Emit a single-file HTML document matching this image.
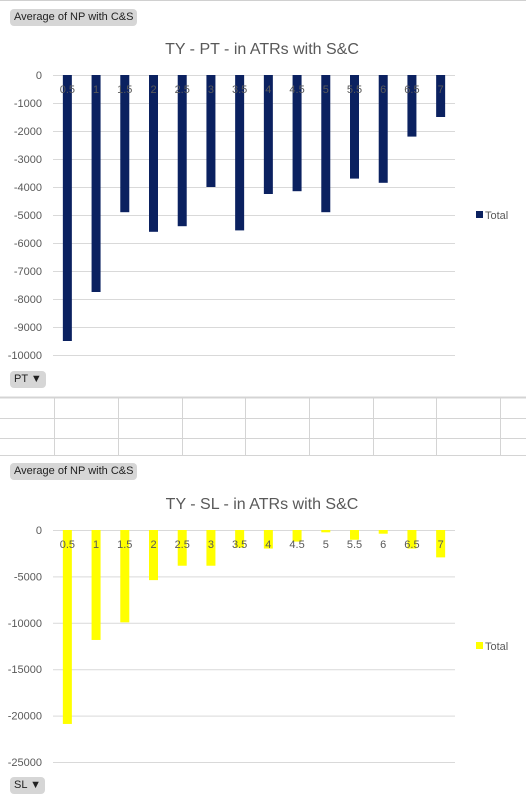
<!DOCTYPE html>
<html><head><meta charset="utf-8"><style>
body{margin:0;width:526px;height:799px;background:#fff;font-family:"Liberation Sans",sans-serif;overflow:hidden;position:relative}
.btn{position:absolute;background:#d6d6d6;border-radius:4px;font-size:11px;color:#222;padding:2px 4px;line-height:13px}
svg{position:absolute;left:0;top:0}
</style></head><body>
<div style="position:absolute;left:0;top:0;width:526px;height:1px;background:#d0d0d0"></div>
<div class="btn" style="left:10px;top:9px">Average of NP with C&amp;S</div>
<div class="btn" style="left:10px;top:371px">PT &#9660;</div>
<div class="btn" style="left:10px;top:463px">Average of NP with C&amp;S</div>
<div class="btn" style="left:10px;top:777px">SL &#9660;</div>
<svg width="526" height="799" id="s">
<g stroke="#d4d4d4">
<line x1="0" y1="397.5" x2="526" y2="397.5" stroke-width="2"/>
<line x1="0" y1="418.5" x2="526" y2="418.5"/>
<line x1="0" y1="438.5" x2="526" y2="438.5"/>
<line x1="0" y1="455.5" x2="526" y2="455.5"/>
<line x1="54.5" y1="398" x2="54.5" y2="455"/><line x1="118.5" y1="398" x2="118.5" y2="455"/>
<line x1="182.5" y1="398" x2="182.5" y2="455"/><line x1="245.5" y1="398" x2="245.5" y2="455"/>
<line x1="309.5" y1="398" x2="309.5" y2="455"/><line x1="373.5" y1="398" x2="373.5" y2="455"/>
<line x1="436.5" y1="398" x2="436.5" y2="455"/><line x1="500.5" y1="398" x2="500.5" y2="455"/>
</g>
</svg>
<script>
const categories=["0.5","1","1.5","2","2.5","3","3.5","4","4.5","5","5.5","6","6.5","7"];
const ptValues=[-9500,-7750,-4900,-5600,-5400,-4000,-5550,-4250,-4150,-4900,-3700,-3850,-2200,-1500];
const slValues=[-20900,-11850,-9950,-5400,-3850,-3850,-1900,-2000,-1250,-250,-1050,-400,-2000,-2950];
const ptTicks=[0,-1000,-2000,-3000,-4000,-5000,-6000,-7000,-8000,-9000,-10000];
const slTicks=[0,-5000,-10000,-15000,-20000,-25000];
const NS="http://www.w3.org/2000/svg",svg=document.getElementById('s');
function mk(t,a,p){const e=document.createElementNS(NS,t);for(const k in a)e.setAttribute(k,a[k]);(p||svg).appendChild(e);return e;}
function chart(o){
  const g=mk('g',{});
  
  
  const y=v=>o.y0+(v/o.min)*(o.yMin-o.y0);
  const x0=53,x1=455,step=(x1-x0)/categories.length;
  const x=i=>x0+step*(i+0.5);
  const t=mk('text',{x:262,y:o.titleY,'text-anchor':'middle','font-size':16,fill:'#595959'},g);t.textContent=o.title;
  
  
  o.ticks.forEach(v=>{
    const l=mk('line',{x1:x0,x2:x1,y1:y(v)+0.5,y2:y(v)+0.5,stroke:'#d9d9d9'},g);
    
    
    const tl=mk('text',{x:42,y:y(v)+4,'text-anchor':'end','font-size':11,fill:'#595959'},g);tl.textContent=v;
    
    
  });
  o.values.forEach((v,i)=>{
    const r=mk('rect',{x:x(i)-4.5,y:o.y0,width:9,height:Math.max(1,y(v)-o.y0),fill:o.color},g);
    
    
  });
  categories.forEach((c,i)=>{
    const tl=mk('text',{x:x(i),y:o.y0+18,'text-anchor':'middle','font-size':11,fill:'#595959'},g);tl.textContent=c;
    
    
  });
  const lg=mk('g',{},g);
  
  
  mk('rect',{x:476,y:o.legY-4,width:7,height:7,fill:o.color},lg);
  const lt=mk('text',{x:485,y:o.legY+4,'font-size':11,fill:'#595959'},lg);lt.textContent='Total';
}
chart({name:'pt-chart',title:'TY - PT - in ATRs with S&C',titleY:54,y0:75,min:-10000,yMin:355,ticks:ptTicks,values:ptValues,color:'#0b2160',legY:215});
chart({name:'sl-chart',title:'TY - SL - in ATRs with S&C',titleY:509,y0:530,min:-25000,yMin:762,ticks:slTicks,values:slValues,color:'#ffff00',legY:646});
</script>
</body></html>
